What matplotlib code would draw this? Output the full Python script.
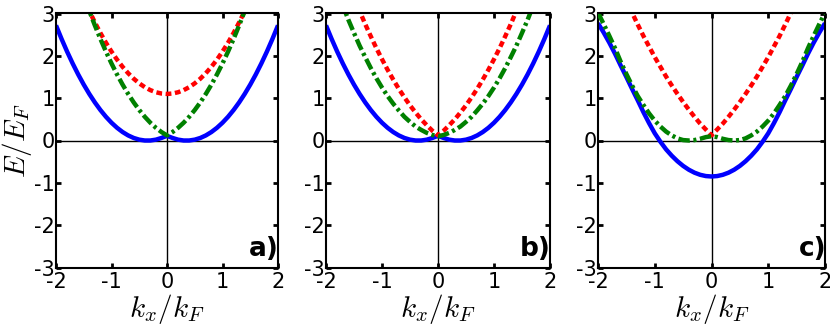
import matplotlib
matplotlib.use("Agg")
import matplotlib.pyplot as plt

plt.rcParams['mathtext.fontset'] = 'cm'
plt.rcParams['axes.unicode_minus'] = False
plt.rcParams['font.family'] = ['DejaVu Sans']

# k_x / k_F grid
k = [-2.0, -1.9, -1.8, -1.7, -1.6, -1.5, -1.4, -1.3, -1.2, -1.1, -1.0,
     -0.9, -0.8, -0.7, -0.6, -0.5, -0.4, -0.3, -0.2, -0.1, 0.0,
     0.1, 0.2, 0.3, 0.4, 0.5, 0.6, 0.7, 0.8, 0.9, 1.0,
     1.1, 1.2, 1.3, 1.4, 1.5, 1.6, 1.7, 1.8, 1.9, 2.0]

# panel a
blue_a = [2.72, 2.40, 2.10, 1.82, 1.56, 1.32, 1.10, 0.90, 0.72, 0.56, 0.42, 0.30, 0.20, 0.12, 0.06, 0.02, 0.00, 0.00, 0.02, 0.06,
          0.11,
          0.06, 0.02, 0.00, 0.00, 0.02, 0.06, 0.12, 0.20, 0.30, 0.42, 0.56, 0.72, 0.90, 1.10, 1.32, 1.56, 1.82, 2.10, 2.40, 2.72]
red_a = [5.10, 4.71, 4.34, 3.99, 3.66, 3.35, 3.06, 2.79, 2.54, 2.31, 2.10, 1.91, 1.74, 1.59, 1.46, 1.35, 1.26, 1.19, 1.14, 1.11,
         1.10,
         1.11, 1.14, 1.19, 1.26, 1.35, 1.46, 1.59, 1.74, 1.91, 2.10, 2.31, 2.54, 2.79, 3.06, 3.35, 3.66, 3.99, 4.34, 4.71, 5.10]
green_a = [5.52, 5.06, 4.62, 4.20, 3.80, 3.42, 3.06, 2.72, 2.40, 2.10, 1.82, 1.56, 1.32, 1.10, 0.90, 0.72, 0.56, 0.42, 0.30, 0.20,
           0.12,
           0.20, 0.30, 0.42, 0.56, 0.72, 0.90, 1.10, 1.32, 1.56, 1.82, 2.10, 2.40, 2.72, 3.06, 3.42, 3.80, 4.20, 4.62, 5.06, 5.52]

# panel b
blue_b = [2.72, 2.40, 2.10, 1.82, 1.56, 1.32, 1.10, 0.90, 0.72, 0.56, 0.42, 0.30, 0.20, 0.12, 0.06, 0.02, 0.00, 0.00, 0.02, 0.06,
          0.11,
          0.06, 0.02, 0.00, 0.00, 0.02, 0.06, 0.12, 0.20, 0.30, 0.42, 0.56, 0.72, 0.90, 1.10, 1.32, 1.56, 1.82, 2.10, 2.40, 2.72]
red_b = [5.22, 4.82, 4.44, 4.07, 3.72, 3.38, 3.06, 2.75, 2.46, 2.18, 1.92, 1.67, 1.44, 1.22, 1.02, 0.83, 0.66, 0.50, 0.36, 0.23,
         0.12,
         0.23, 0.36, 0.50, 0.66, 0.83, 1.02, 1.22, 1.44, 1.67, 1.92, 2.18, 2.46, 2.75, 3.06, 3.38, 3.72, 4.07, 4.44, 4.82, 5.22]
green_b = [4.30, 3.91, 3.54, 3.19, 2.85, 2.54, 2.24, 1.97, 1.71, 1.47, 1.25, 1.05, 0.87, 0.71, 0.56, 0.44, 0.33, 0.25, 0.18, 0.13,
           0.10,
           0.13, 0.18, 0.25, 0.33, 0.44, 0.56, 0.71, 0.87, 1.05, 1.25, 1.47, 1.71, 1.97, 2.24, 2.54, 2.85, 3.19, 3.54, 3.91, 4.30]

# panel c
blue_c = [2.77, 2.55, 2.31, 2.05, 1.77, 1.50, 1.22, 0.95, 0.67, 0.41, 0.17, -0.03, -0.21, -0.36, -0.49, -0.60, -0.69, -0.76, -0.81, -0.84,
          -0.85,
          -0.84, -0.81, -0.76, -0.69, -0.60, -0.49, -0.36, -0.21, -0.03, 0.17, 0.41, 0.67, 0.95, 1.22, 1.50, 1.77, 2.05, 2.31, 2.55, 2.77]
red_c = [4.92, 4.58, 4.24, 3.92, 3.61, 3.31, 3.02, 2.74, 2.47, 2.22, 1.97, 1.74, 1.51, 1.30, 1.10, 0.91, 0.73, 0.56, 0.40, 0.26,
         0.12,
         0.26, 0.40, 0.56, 0.73, 0.91, 1.10, 1.30, 1.51, 1.74, 1.97, 2.22, 2.47, 2.74, 3.02, 3.31, 3.61, 3.92, 4.24, 4.58, 4.92]
green_c = [3.02, 2.75, 2.47, 2.18, 1.86, 1.57, 1.30, 1.05, 0.84, 0.64, 0.47, 0.33, 0.21, 0.12, 0.05, 0.01, 0.00, 0.01, 0.04, 0.08,
           0.10,
           0.08, 0.04, 0.01, 0.00, 0.01, 0.05, 0.12, 0.21, 0.33, 0.47, 0.64, 0.84, 1.05, 1.30, 1.57, 1.86, 2.18, 2.47, 2.75, 3.02]

panel_labels = ["a)", "b)", "c)"]
xticks = [-2, -1, 0, 1, 2]
yticks = [-3, -2, -1, 0, 1, 2, 3]

W, H = 830, 327
# axes boxes in pixels: left, right
boxes = [(56, 278), (326, 550), (598, 825)]
top, bottom = 13.5, 267.5

fig = plt.figure(figsize=(8.3, 3.27), dpi=100)

data = [(blue_a, red_a, green_a), (blue_b, red_b, green_b), (blue_c, red_c, green_c)]

for i, (blue, red, green) in enumerate(data):
    l, r = boxes[i]
    ax = fig.add_axes([l / W, 1 - bottom / H, (r - l) / W, (bottom - top) / H])

    ax.axhline(0, color="k", lw=1, zorder=1)
    ax.axvline(0, color="k", lw=1, zorder=1)

    ax.plot(k, blue, color="b", lw=3.2, solid_capstyle="butt", zorder=2)
    ax.plot(k, red, color="r", lw=3.2, dashes=(1.3, 0.8), zorder=3)
    ax.plot(k, green, color="g", lw=3.2, dashes=(2.6, 0.8, 0.7, 0.8), zorder=4)

    ax.set_xlim(-2, 2)
    ax.set_ylim(-3, 3)
    ax.set_xticks(xticks)
    ax.set_yticks(yticks)
    ax.tick_params(direction="in", top=True, right=True, length=3.5, width=2,
                   labelsize=15)
    ax.tick_params(axis="y", pad=1)
    ax.tick_params(axis="x", pad=3)
    for s in ax.spines.values():
        s.set_linewidth(1.5)

    ax.set_xlabel(r"$k_x/k_F$", fontsize=21, labelpad=0)
    if i == 0:
        ax.set_ylabel(r"$E/E_F$", fontsize=21, labelpad=0)

    ax.text(1.005, 0.045, panel_labels[i], transform=ax.transAxes,
            ha="right", va="baseline", fontsize=19, fontweight="bold")

fig.savefig("out.png", dpi=100)
